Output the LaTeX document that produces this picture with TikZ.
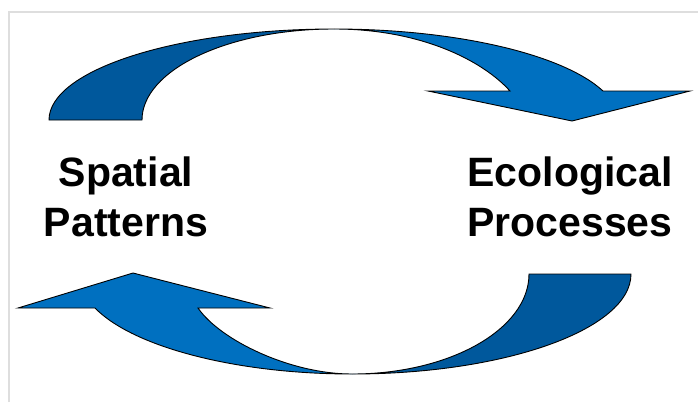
\documentclass[tikz,border=0pt]{standalone}
\usepackage{fontspec}
\setmainfont{Liberation Sans}
\definecolor{darkblue}{RGB}{0,88,156}
\definecolor{lightblue}{RGB}{0,112,192}
\definecolor{frame}{RGB}{222,222,222}
\begin{document}
\begin{tikzpicture}[x=1pt,y=-1pt,
  band/.style={draw=black,line width=0.9pt,line join=miter},
  lbl/.style={font=\bfseries\fontsize{41}{50}\selectfont,align=center,text=black,inner sep=0pt}]
\useasboundingbox (0,0) rectangle (698,402);
\fill[white] (0,0) rectangle (698,402);
% frame shadow
\draw[frame,line width=2.5pt] (9,402) -- (9,12) -- (698,12);
% top arrow
\coordinate (tA) at (49,120);
\coordinate (tB) at (142,120);
\coordinate (tC) at (334,29);
\coordinate (tD) at (603,91);
\coordinate (tE) at (510,91);
\coordinate (tF) at (428,91);
\coordinate (tG) at (572,121);
\coordinate (tH) at (690,91);
\filldraw[band,fill=darkblue] (tA) .. controls (49,70) and (177,29) .. (tC)
  .. controls (228,29) and (142,70) .. (tB) -- cycle;
\filldraw[band,fill=lightblue] (tC) .. controls (455,29) and (563,54) .. (tD)
  -- (tH) -- (tG) -- (tF) -- (tE) .. controls (482,60) and (420,29) .. (tC) -- cycle;
% bottom arrow
\coordinate (bA) at (631,274);
\coordinate (bB) at (529,274);
\coordinate (bC) at (352,374);
\coordinate (bD) at (95,308);
\coordinate (bE) at (198,308);
\coordinate (bF) at (270,308);
\coordinate (bG) at (133,273);
\coordinate (bH) at (18,308);
\filldraw[band,fill=darkblue] (bA) .. controls (631,329) and (506,374) .. (bC)
  .. controls (450,374) and (529,329) .. (bB) -- cycle;
\filldraw[band,fill=lightblue] (bC) .. controls (236,374) and (133,347) .. (bD)
  -- (bH) -- (bG) -- (bF) -- (bE) .. controls (220,340) and (290,374) .. (bC) -- cycle;
% labels
\node[lbl] (sp) at (126,197) {Spatial\\Patterns};
\node[lbl] (ep) at (570,197) {Ecological\\Processes};
\end{tikzpicture}
\end{document}
